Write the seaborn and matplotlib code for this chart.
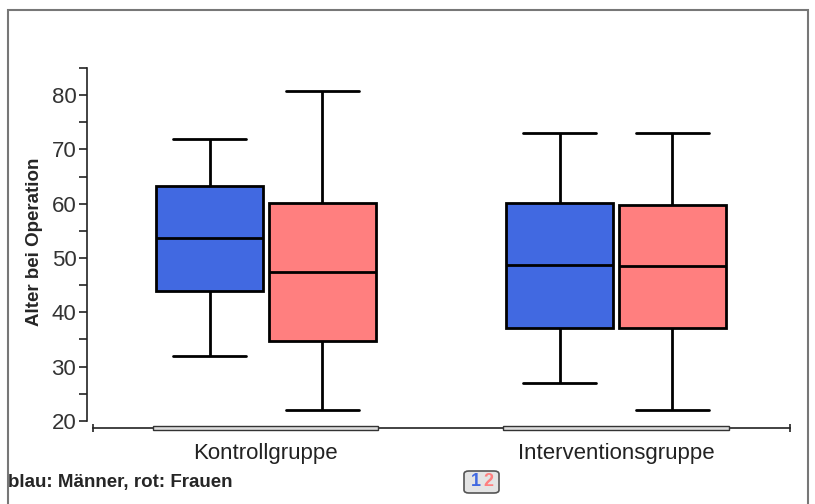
import numpy as np
import pandas as pd
import matplotlib
matplotlib.use("Agg")
import matplotlib.pyplot as plt
import matplotlib.transforms as mtransforms
from matplotlib.patches import Rectangle, FancyBboxPatch
import seaborn as sns

# five-number summaries: min, q1, median, q3, max
groups = ["Kontrollgruppe", "Interventionsgruppe"]
sexes = ["Männer", "Frauen"]
kontroll_maenner = [32, 44.0, 53.6, 63.2, 72]
kontroll_frauen = [22, 34.7, 47.5, 60.1, 80.8]
intervention_maenner = [27, 37.1, 48.7, 60.1, 73]
intervention_frauen = [22, 37.2, 48.5, 59.7, 73]
colors = ["#4169E1", "#FF7F7F"]

rows = []
for grp, sex, vals in [
    (groups[0], sexes[0], kontroll_maenner),
    (groups[0], sexes[1], kontroll_frauen),
    (groups[1], sexes[0], intervention_maenner),
    (groups[1], sexes[1], intervention_frauen),
]:
    for v in vals:
        rows.append({"Gruppe": grp, "Geschlecht": sex, "Alter": v})
df = pd.DataFrame(rows)

sns.set_style("white")
sans = ["Liberation Sans", "DejaVu Sans"]
plt.rcParams["font.family"] = sans

fig = plt.figure(figsize=(8.15, 5.04), dpi=100)
ax = fig.add_axes([93 / 815, 76 / 504, 697 / 815, 360 / 504])

sns.boxplot(data=df, x="Gruppe", y="Alter", hue="Geschlecht", order=groups,
            hue_order=sexes, palette=colors, width=0.643, gap=0.05,
            whis=np.inf, linecolor="black", linewidth=2, legend=False,
            saturation=1, ax=ax)

# widen the whisker caps (about 2/3 of the box width in the original)
spans = []
for ln in ax.lines:
    xd, yd = np.asarray(ln.get_xdata(), float), np.asarray(ln.get_ydata(), float)
    if len(xd) == 2 and yd[0] == yd[1]:
        spans.append(abs(xd[1] - xd[0]))
maxspan = max(spans)
for ln in ax.lines:
    xd, yd = np.asarray(ln.get_xdata(), float), np.asarray(ln.get_ydata(), float)
    if len(xd) == 2 and yd[0] == yd[1] and abs(xd[1] - xd[0]) < 0.8 * maxspan:
        c = xd.mean()
        ln.set_xdata(c + (xd - c) * 1.36)

ax.set_xlim(-0.494, 1.497)
ax.set_ylim(18.7, 85)

# styling of axes
for s in ["top", "right"]:
    ax.spines[s].set_visible(False)
ax.spines["left"].set_position(("outward", 4))
ax.spines["left"].set_bounds(20, 85)
for s in ["left", "bottom"]:
    ax.spines[s].set_linewidth(1.2)
    ax.spines[s].set_color("#222222")

ax.set_yticks(np.arange(20, 81, 10))
ax.set_yticks(np.arange(25, 86, 10), minor=True)
ax.tick_params(axis="y", which="both", direction="out", length=6, width=1.2,
               left=True, color="#222222", labelsize=16, labelcolor="#333333", pad=2)
ax.set_xticks([0, 1])
ax.set_xticklabels(groups)
ax.set_xticks([-0.494, 1.497], minor=True)
ax.tick_params(axis="x", which="major", length=0, labelsize=16, pad=11,
               labelcolor="#222222")
ax.tick_params(axis="x", which="minor", direction="inout", length=6, width=1.2,
               bottom=True, color="#222222")
ax.set_xlabel("")
ax.set_ylabel("")

# category bands along the x axis
trans = mtransforms.blended_transform_factory(ax.transData, ax.transAxes)
for i in range(len(groups)):
    ax.add_patch(Rectangle((i - 0.3215, -0.006), 0.643, 0.012, transform=trans,
                           facecolor="#dddddd", edgecolor="#333333", lw=1,
                           clip_on=False, zorder=5))

fig.text(35 / 815, 1 - 242 / 504, "Alter bei Operation", rotation=90,
         ha="center", va="center", fontsize=13.5, fontweight="bold")
fig.text(8 / 815, 1 - 482 / 504, "blau: Männer, rot: Frauen", ha="left",
         va="center", fontsize=13.5, fontweight="bold")

# page badge
fig.patches.append(FancyBboxPatch((464 / 815, 1 - 493 / 504), 35 / 815, 22 / 504,
                                  boxstyle="round,pad=0,rounding_size=0.006",
                                  transform=fig.transFigure, facecolor="#e4e4e4",
                                  edgecolor="#555555", lw=1.2))
fig.text(476 / 815, 1 - 482 / 504, "1", color=colors[0], ha="center", va="center",
         fontsize=13, fontweight="bold")
fig.text(488 / 815, 1 - 482 / 504, "2", color=colors[1], ha="center", va="center",
         fontsize=13, fontweight="bold")

# outer frame
fig.patches.append(Rectangle((8 / 815, -0.1), 800 / 815, 1.1 - 10 / 504,
                             transform=fig.transFigure, fill=False,
                             edgecolor="#777777", lw=1.5))

fig.savefig("out.png", dpi=100)
